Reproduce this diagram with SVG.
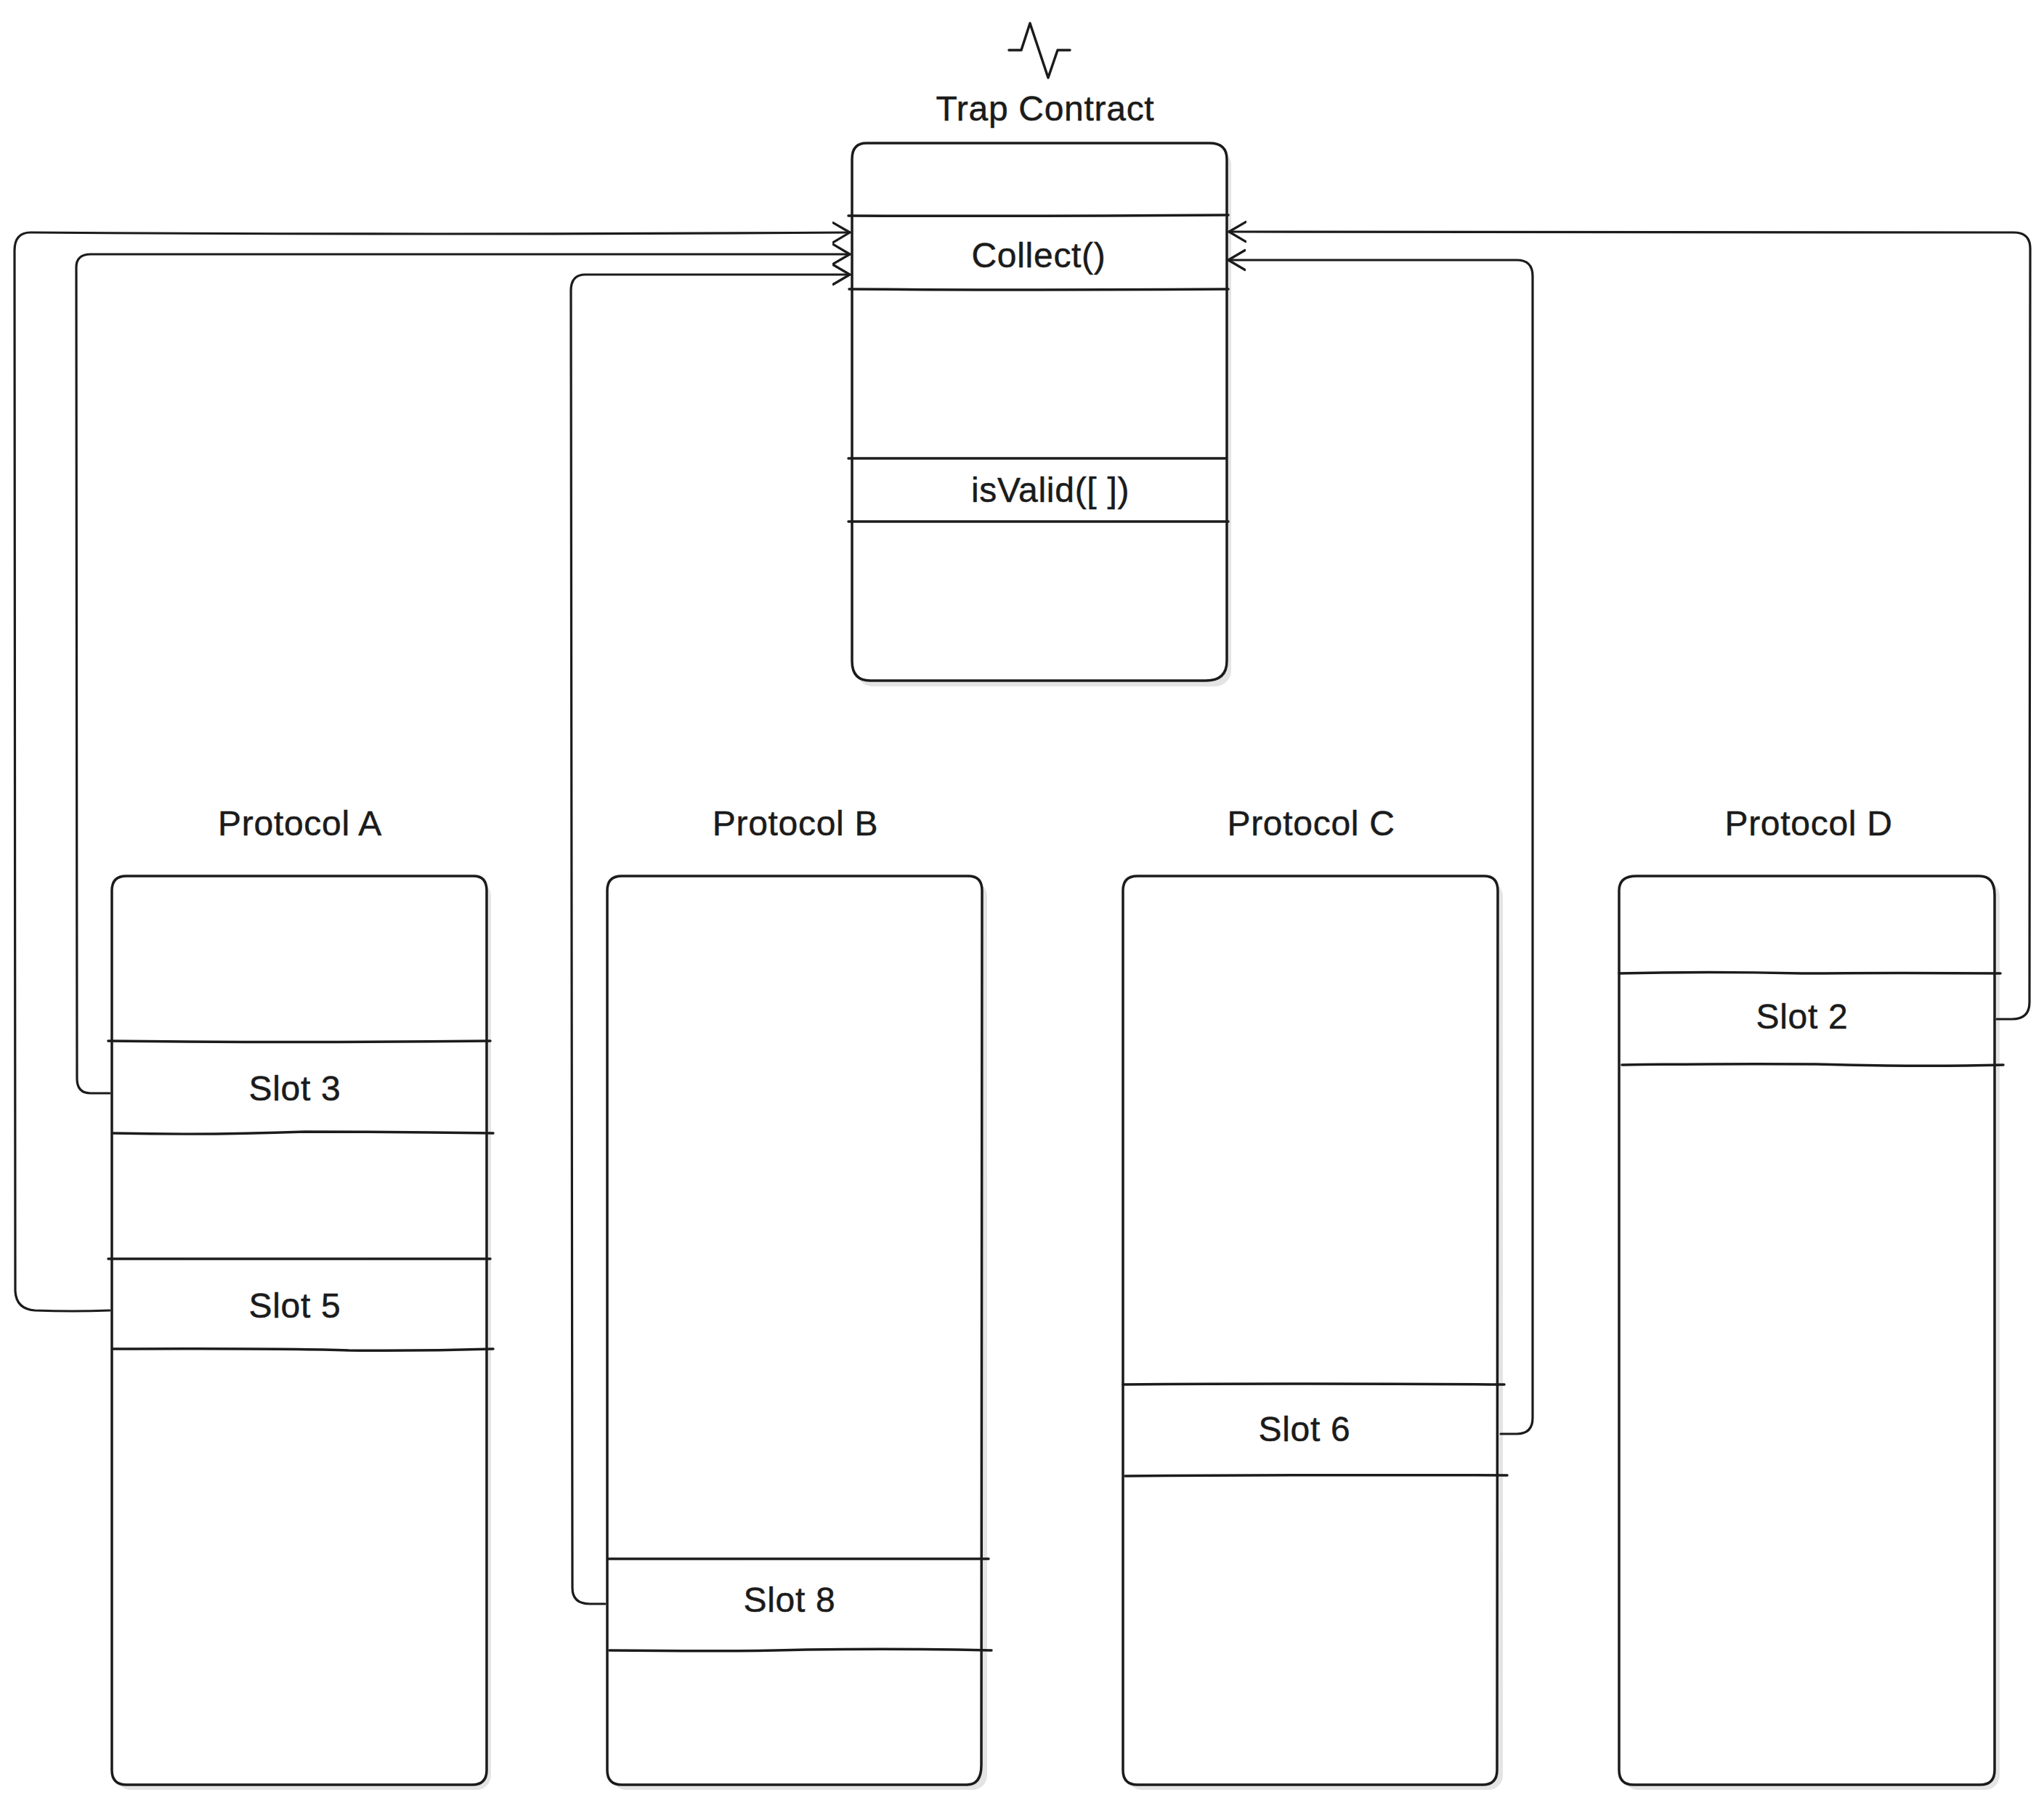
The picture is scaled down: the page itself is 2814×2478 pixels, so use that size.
<svg xmlns="http://www.w3.org/2000/svg" width="2814" height="2478" viewBox="0 0 2814 2478">
<style>
.l{fill:none;stroke:#1b1b1b;stroke-width:3.5;stroke-linecap:round;stroke-linejoin:round}
.c{fill:none;stroke:#1b1b1b;stroke-width:3.2;stroke-linecap:round;stroke-linejoin:round;marker-end:url(#open)}
.b{fill:#fff;stroke:#1b1b1b;stroke-width:3.5;stroke-linejoin:round}
.s{fill:#e4e4e4;stroke:none}
text{font-family:"Liberation Sans",Arial,sans-serif;font-size:48px;letter-spacing:.7px;fill:#1b1b1b;stroke:#1b1b1b;stroke-width:.5px;text-anchor:middle}
</style>
<defs>
<marker id="open" markerUnits="userSpaceOnUse" markerWidth="30" markerHeight="34" refX="24" refY="15" orient="auto" viewBox="0 0 30 30">
<path d="M1,1.500 L24,15 L1,28.500" fill="none" stroke="#1b1b1b" stroke-width="3.2" stroke-linecap="round" stroke-linejoin="round"/>
</marker>
</defs>
<rect width="2814" height="2478" fill="#fff"/>

<g id="trap-icon"><path class="l" d="M1389,69 L1406,69 L1418,32 L1443,107 L1456,69 L1473,69"/></g>

<g id="trap-contract">
<rect class="s" x="1179" y="205" width="516" height="740" rx="22"/>
<path class="b" d="M1173,219 Q1173,197 1193,197 L1665,197 Q1689,197 1689,219 L1689,910 Q1689,937 1660,937 L1198,937 Q1173,937 1173,910 Z"/>
<path class="l" d="M1168,297 Q1430,298 1691,296"/>
<path class="l" d="M1169,398 Q1420,400 1691,398"/>
<path class="l" d="M1168,631 Q1420,630 1688,631"/>
<path class="l" d="M1168,718 Q1430,717 1691,718"/>
<text x="1439" y="166">Trap Contract</text>
<text x="1430" y="368">Collect()</text>
<text x="1446" y="691">isValid([ ])</text>
</g>

<g id="protocol-a">
<rect class="s" x="160" y="1214" width="516" height="1250" rx="20"/>
<path class="b" d="M154,1226 Q154,1206 174,1206 L652,1206 Q670,1206 670,1226 L670,2437 Q670,2457 650,2457 L174,2457 Q154,2457 154,2437 Z"/>
<path class="l" d="M149,1433 Q420,1436 675,1433"/>
<path class="l" d="M156,1560 Q290,1563 420,1558 Q550,1558 679,1560"/>
<path class="l" d="M149,1733 Q420,1734 675,1733"/>
<path class="l" d="M156,1857 Q400,1856 480,1859 Q580,1860 679,1857"/>
<text x="413" y="1150">Protocol A</text>
<text x="406" y="1515">Slot 3</text>
<text x="406" y="1814">Slot 5</text>
</g>

<g id="protocol-b">
<rect class="s" x="842" y="1214" width="517" height="1250" rx="20"/>
<path class="b" d="M836,1226 Q836,1206 856,1206 L1333,1206 Q1352,1206 1352,1226 L1351,2430 Q1351,2457 1331,2457 L856,2457 Q836,2457 836,2437 Z"/>
<path class="l" d="M837,2146 Q1100,2147 1361,2146"/>
<path class="l" d="M839,2272 Q1020,2274 1110,2271 Q1240,2269 1365,2272"/>
<text x="1095" y="1150">Protocol B</text>
<text x="1087" y="2219">Slot 8</text>
</g>

<g id="protocol-c">
<rect class="s" x="1552" y="1214" width="517" height="1250" rx="20"/>
<path class="b" d="M1546,1226 Q1546,1206 1566,1206 L2043,1206 Q2062,1206 2062,1226 L2061,2437 Q2061,2457 2041,2457 L1566,2457 Q1546,2457 1546,2437 Z"/>
<path class="l" d="M1546,1906 Q1800,1904 2071,1906"/>
<path class="l" d="M1549,2032 Q1800,2030 2075,2031"/>
<text x="1805" y="1150">Protocol C</text>
<text x="1796" y="1984">Slot 6</text>
</g>

<g id="protocol-d">
<rect class="s" x="2235" y="1214" width="518" height="1250" rx="20"/>
<path class="b" d="M2229,1226 Q2229,1206 2253,1206 L2725,1206 Q2746,1206 2746,1232 L2746,2437 Q2746,2457 2726,2457 L2249,2457 Q2229,2457 2229,2437 Z"/>
<path class="l" d="M2229,1340 Q2350,1337 2480,1340 Q2620,1339 2754,1340"/>
<path class="l" d="M2233,1466 Q2380,1464 2500,1465 Q2640,1469 2758,1466"/>
<text x="2490" y="1150">Protocol D</text>
<text x="2481" y="1416">Slot 2</text>
</g>

<g id="connectors">
<path class="c" d="M151,1804 Q100,1806 48,1804 Q21,1802 21,1775 L20,345 Q20,320 42,320 Q600,324 1170,320"/>
<path class="c" d="M151,1505 L125,1505 Q106,1505 106,1485 L105,368 Q105,350 125,350 Q650,348 1170,350"/>
<path class="c" d="M833,2208 L812,2208 Q788,2208 788,2186 L786,400 Q786,378 806,378 L1170,378"/>
<path class="c" d="M2066,1974 L2088,1974 Q2110,1974 2110,1952 L2110,380 Q2110,358 2088,358 L1691,358"/>
<path class="c" d="M2749,1403 L2770,1403 Q2794,1403 2794,1380 L2795,342 Q2795,320 2772,320 L1692,319"/>
</g>
</svg>
